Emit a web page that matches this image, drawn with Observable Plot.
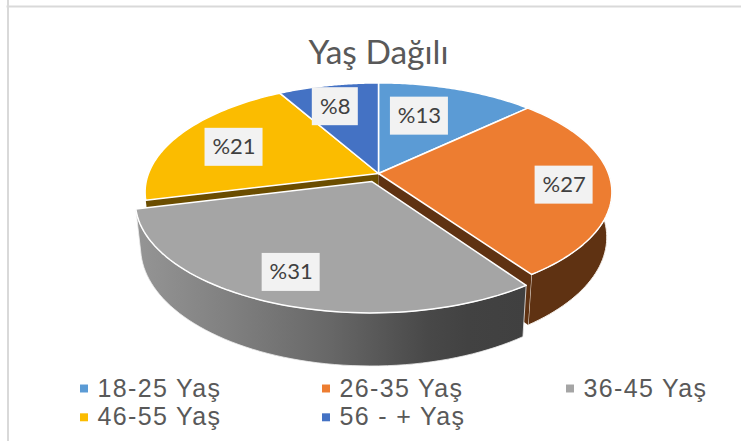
<!DOCTYPE html>
<html lang="tr">
<head>
<meta charset="utf-8">
<script src="https://cdn.jsdelivr.net/npm/d3@7"></script>
<script src="https://cdn.jsdelivr.net/npm/@observablehq/plot@0.6"></script>
<style>
html,body{margin:0;padding:0;background:#fff;}
svg{display:block;}
.legend-text text{letter-spacing:1.35px;}
</style>
</head>
<body>
<div id="chart"></div>
<script>
const titleText = "Yaş Dağılı";
const categories = ["18-25 Yaş", "26-35 Yaş", "36-45 Yaş", "46-55 Yaş", "56 - + Yaş"];
const shares = [12.9, 27.4, 30.8, 20.7, 8.2];
const sliceColors = ["#5b9bd5", "#ed7d31", "#a5a5a5", "#fbbc00", "#4472c4"];

// Perspective model of the tilted disc
const view = {cx: 378, cy: 173, a: 230, b: 106, k: 0.17, depth: 44, depthGrow: 0.065, shrink: 0.978};
const explode = {"36-45 Yaş": 0.08};
// label placement: fraction of the radius along the slice's mid-angle, then a small nudge
const labelReach = {"18-25 Yaş": 0.55, "26-35 Yaş": 0.8, "36-45 Yaş": 0.78, "46-55 Yaş": 0.68, "56 - + Yaş": 0.73};
const labelNudge = {"18-25 Yaş": [-5, -8], "26-35 Yaş": [0, 3], "36-45 Yaş": [-7, 0], "46-55 Yaş": [-7, 1], "56 - + Yaş": [-5, 0]};

const total = d3.sum(shares);
let acc = 0;
const slices = categories.map((name, i) => {
  const start = acc / total * 2 * Math.PI; acc += shares[i];
  const end = acc / total * 2 * Math.PI;
  const mid = (start + end) / 2;
  const e = explode[name] || 0;
  return {name, share: shares[i], color: sliceColors[i], start, end, mid, off: [e * Math.sin(mid), -e * Math.cos(mid)]};
});

function upper(s, r, t) {
  const u = r * Math.sin(t) + s.off[0], v = -r * Math.cos(t) + s.off[1];
  const w = 1 - view.k * v;
  return {x: view.cx + view.a * u / w, y: view.cy + view.b * v / w};
}
function lower(p) {
  return {x: view.cx + view.shrink * (p.x - view.cx), y: p.y + view.depth + view.depthGrow * (p.y - view.cy)};
}
const rim = (s, t0, t1) => d3.range(0, 61).map(i => upper(s, 1, t0 + (t1 - t0) * i / 60));
const closed = pts => [...pts, pts[0]];
const face = s => closed([upper(s, 0, 0), ...rim(s, s.start, s.end)]);
const wall = s => closed([...rim(s, s.start, s.end), ...rim(s, s.start, s.end).reverse().map(lower)]);
const cut = (s, t) => { const a = upper(s, 0, 0), b = upper(s, 1, t); return closed([a, b, lower(b), lower(a)]); };

const [s1, s2, s3, s4, s5] = slices;
const poly = (pts, fill, stroke, strokeWidth) => Plot.line(pts, {x: "x", y: "y", fill, stroke: stroke || "none", strokeWidth: strokeWidth || 0, curve: "linear"});

const labels = slices.map(s => {
  const p = upper(s, labelReach[s.name], s.mid);
  const text = "%" + Math.round(s.share);
  const [dx, dy] = labelNudge[s.name];
  return {x: p.x + dx, y: p.y + dy, text, w: text.length === 2 ? 46 : 58};
});
const legend = slices.map((s, i) => ({...s, col: i % 3, row: Math.floor(i / 3)}));
const legendX = [79, 321, 565];
const legendY = [388, 416.8];

const gradientDefs = () => {
  const d = d3.create("svg:defs");
  const g = d.append("linearGradient").attr("id", "graySide").attr("x1", 0).attr("x2", 1).attr("y1", 0).attr("y2", 0);
  [[0, "#959595"], [0.25, "#7f7f7f"], [0.5, "#676767"], [0.75, "#484848"], [0.85, "#424242"], [1, "#404040"]]
    .forEach(([o, c]) => g.append("stop").attr("offset", o).attr("stop-color", c));
  return d.node();
};

const plot = Plot.plot({
  width: 741, height: 441, margin: 0,
  x: {domain: [0, 741], range: [0, 741], axis: null},
  y: {domain: [0, 441], range: [0, 441], axis: null},
  marks: [
    gradientDefs,
    Plot.ruleX([7.5], {stroke: "#d9d9d9", strokeWidth: 2}),
    Plot.ruleY([6], {x1: 6.5, x2: 741, stroke: "#d9d9d9", strokeWidth: 2}),
    Plot.text([titleText], {x: view.cx, y: 53, text: d => d, fontFamily: "Lato", fontSize: 33.5, fill: "#595959"}),
    poly(cut(s4, s4.start), "#6b4d00"),
    poly(wall(s2), "#5f3212", "#f4efe9", 1),
    poly(cut(s2, s2.end), "#5f3212"),
    ...[s1, s2, s4, s5].map(s => poly(face(s), s.color, "#fff", 1.5)),
    poly(wall(s3), "url(#graySide)", "#eeeeee", 0.8),
    poly(face(s3), s3.color, "#fff", 1.5),
    Plot.rect(labels, {x1: d => d.x - d.w / 2, x2: d => d.x + d.w / 2, y1: d => d.y - 19, y2: d => d.y + 19, fill: "#f2f2f2"}),
    Plot.text(labels, {x: "x", y: "y", text: "text", fontFamily: "Lato", fontSize: 22, fill: "#404040"}),
    Plot.dot(legend, {x: d => legendX[d.col] + 4.5, y: d => legendY[d.row], symbol: "square", r: 4.5, fill: "color"}),
    Plot.text(legend, {x: d => legendX[d.col] + 18, y: d => legendY[d.row], text: "name", textAnchor: "start", fontFamily: "Liberation Sans", fontSize: 25, fill: "#595959", className: "legend-text"})
  ]
});
document.getElementById("chart").append(plot);
</script>
</body>
</html>
